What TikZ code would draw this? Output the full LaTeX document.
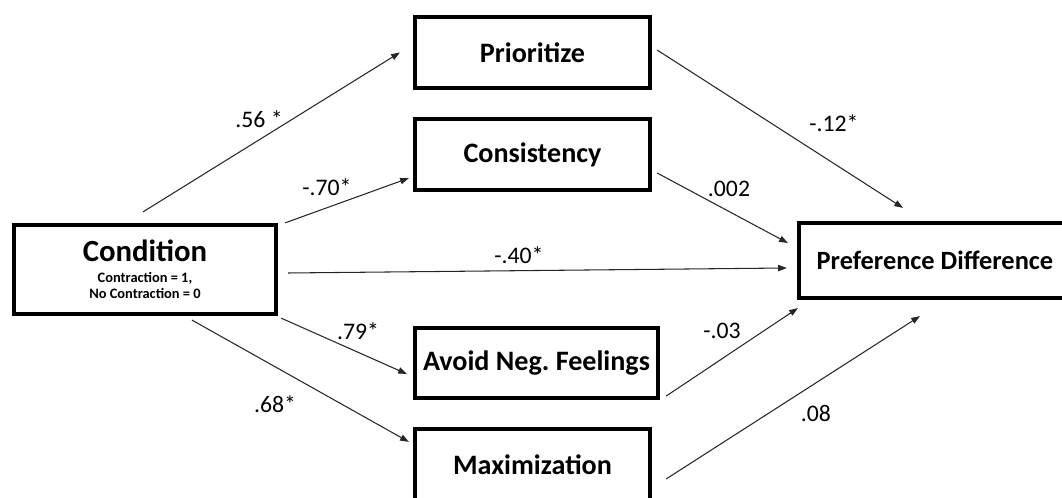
\documentclass[tikz,border=0pt]{standalone}
\usepackage{fontspec}
\setmainfont{Carlito}
\usetikzlibrary{arrows.meta}

\tikzset{
    box/.style={draw, line width=2.4pt, rectangle, align=center, inner sep=0pt,
        font=\bfseries\fontsize{16}{19}\selectfont},
    arr/.style={-{Triangle[length=5pt,width=3.6pt]}, line width=0.6pt, draw=black!85},
    coef/.style={inner sep=0pt, font=\fontsize{13.5}{16}\selectfont}
}

\begin{document}
\frenchspacing
\begin{tikzpicture}
    \useasboundingbox (0,0) rectangle (21.24,9.96);

    % Boxes
    \node[box, minimum width=5.24cm, minimum height=1.78cm, font=\bfseries\fontsize{8.2}{9.2}\selectfont]
        (cond) at (2.90,4.57)
        {{\fontsize{17.5}{19}\selectfont Condition}\\[2.6pt]
         Contraction = 1,\\No Contraction = 0};
    \node[box, minimum width=4.70cm, minimum height=1.42cm] (prio) at (10.65,8.91) {Prioritize};
    \node[box, minimum width=4.70cm, minimum height=1.42cm] (cons) at (10.65,6.87) {Consistency};
    \node[box, minimum width=4.86cm, minimum height=1.40cm] (avoid) at (10.73,2.70) {Avoid Neg. Feelings};
    \node[box, minimum width=4.70cm, minimum height=1.42cm] (maxi) at (10.65,0.67) {Maximization};
    \node[box, minimum width=5.44cm, minimum height=1.50cm, font=\bfseries\fontsize{15}{18}\selectfont]
        (pref) at (18.70,4.75) {Preference Difference};

    % Paths from condition
    \draw[arr] ([xshift=-0.04cm,yshift=0.22cm]cond.north) -- ([xshift=-0.26cm]prio.west);
    \draw[arr] ([xshift=0.14cm]cond.north east) -- ([xshift=-0.08cm,yshift=0.28cm]cons.south west);
    \draw[arr] ([xshift=0.2cm,yshift=-0.07cm]cond.east) -- ([xshift=-0.2cm,yshift=-0.15cm]pref.west);
    \draw[arr] ([xshift=0.06cm,yshift=-0.04cm]cond.south east) -- ([xshift=-0.12cm,yshift=-0.22cm]avoid.west);
    \draw[arr] ([xshift=0.94cm,yshift=-0.08cm]cond.south) -- ([xshift=-0.08cm,yshift=-0.3cm]maxi.north west);

    % Paths to preference difference
    \draw[arr] ([xshift=0.1cm,yshift=0.05cm]prio.east) -- ([xshift=-0.64cm,yshift=0.26cm]pref.north);
    \draw[arr] ([xshift=0.1cm,yshift=-0.37cm]cons.east) -- ([xshift=-0.18cm,yshift=0.35cm]pref.west);
    \draw[arr] ([xshift=0.12cm,yshift=0.08cm]avoid.south east) -- ([xshift=0.02cm,yshift=-0.16cm]pref.south west);
    \draw[arr] ([xshift=0.28cm,yshift=-0.29cm]maxi.east) -- ([xshift=-0.3cm,yshift=-0.32cm]pref.south);

    % Coefficients
    \node[coef] (c1) at (5.18,7.58) {.56 *};
    \node[coef] (c2) at (6.54,6.22) {-.70*};
    \node[coef] (c3) at (10.38,4.86) {-.40*};
    \node[coef] (c4) at (7.16,3.34) {.79*};
    \node[coef] (c5) at (5.50,1.88) {.68*};
    \node[coef] (c6) at (16.68,7.50) {-.12*};
    \node[coef] (c7) at (14.58,6.18) {.002};
    \node[coef] (c8) at (14.44,3.34) {-.03};
    \node[coef] (c9) at (16.32,1.70) {.08};
\end{tikzpicture}
\end{document}
